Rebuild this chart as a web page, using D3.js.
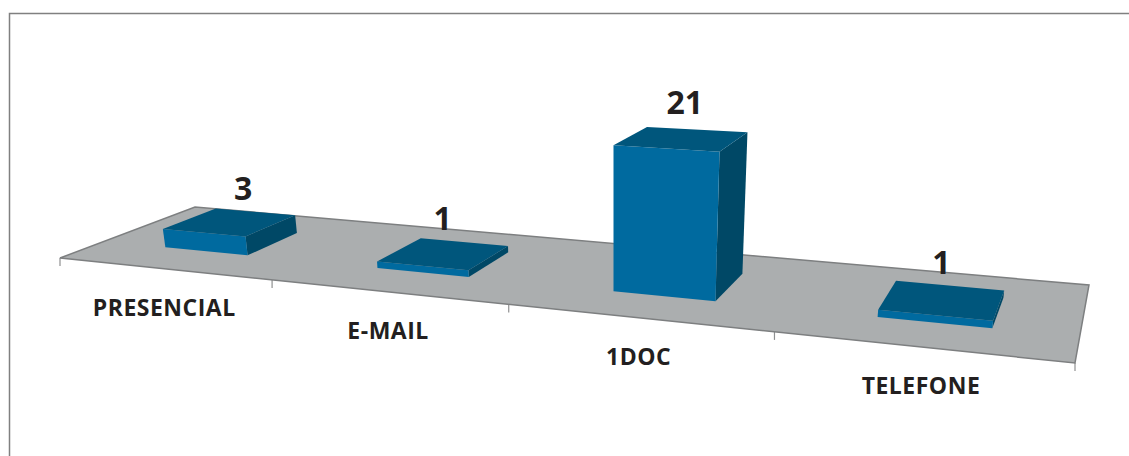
<!DOCTYPE html>
<html>
<head>
<meta charset="utf-8">
<script src="https://cdnjs.cloudflare.com/ajax/libs/d3/7.8.5/d3.min.js"></script>
<style>
  html, body { margin: 0; padding: 0; background: #fff; overflow: hidden; }
  text { font-family: "Open Sans", sans-serif; font-weight: 700; fill: #231f20; }
</style>
</head>
<body>
<svg id="chart" width="1129" height="456"></svg>
<script>
const categories = ["PRESENCIAL", "E-MAIL", "1DOC", "TELEFONE"];
const values = [3, 1, 21, 1];

const width = 1129, height = 456;
const svg = d3.select("#chart");

// floor corners on screen: front-left, front-right, back-right, back-left
const [p0, p1, p2, p3] = [[60, 258], [1075, 363], [1089, 285], [195, 207]];

// perspective map from the unit floor square to the screen
const dx1 = p1[0] - p2[0], dx2 = p3[0] - p2[0], sx = p0[0] - p1[0] + p2[0] - p3[0];
const dy1 = p1[1] - p2[1], dy2 = p3[1] - p2[1], sy = p0[1] - p1[1] + p2[1] - p3[1];
const det = dx1 * dy2 - dx2 * dy1;
const pg = (sx * dy2 - dx2 * sy) / det;
const ph = (dx1 * sy - sx * dy1) / det;
const pa = p1[0] - p0[0] + pg * p1[0], pb = p3[0] - p0[0] + ph * p3[0];
const pd = p1[1] - p0[1] + pg * p1[1], pe = p3[1] - p0[1] + ph * p3[1];

function project(u, v, h = 0) {
  const w = pg * u + ph * v + 1;
  const px = (pa * u + pb * v + p0[0]) / w;
  const py = (pd * u + pe * v + p0[1]) / w;
  // height grows toward the near right side, tall tops flatten toward the back
  const up = h * (1 + (u - 0.55) * 0.24) - (v - 0.3) * h * 0.135;
  return [px + (px - 613) * h * 0.00027, py - up];
}

const x = d3.scaleBand().domain(categories).range([0.002, 1.002]).paddingInner(0.6).paddingOuter(0.3);
const slot = d3.scaleBand().domain(categories).range([0, 1]);
const depth = d3.scaleLinear().domain([0, 1]).range([0.3, 0.71]);
const y = d3.scaleLinear().domain([0, 21]).range([0, 145]);
const line = d3.line();
const poly = pts => line(pts) + "Z";

// chart frame, only top and left
svg.append("path")
  .attr("d", `M9.5,456V13.5H${width}`)
  .attr("fill", "none")
  .attr("stroke", "#808080")
  .attr("stroke-width", 1.5);

// ticks under the front edge
const tickPos = categories.map(c => slot(c)).concat(1);
svg.selectAll("line.tick")
  .data(tickPos)
  .join("line")
  .attr("class", "tick")
  .attr("x1", d => project(d, 0)[0])
  .attr("x2", d => project(d, 0)[0])
  .attr("y1", d => project(d, 0)[1])
  .attr("y2", d => project(d, 0)[1] + 8)
  .attr("stroke", "#8f9091")
  .attr("stroke-width", 1.2);

// floor
svg.append("path")
  .attr("d", poly([p0, p1, p2, p3]))
  .attr("fill", "#abaeaf")
  .attr("stroke", "#7d7f80")
  .attr("stroke-width", 1.5);

// bars: side, front, top
const bars = svg.selectAll("g.bar")
  .data(categories.map((c, i) => ({ c, v: values[i] })))
  .join("g")
  .attr("class", "bar");

const corners = (d, h) => {
  const u0 = x(d.c), u1 = x(d.c) + x.bandwidth();
  return {
    fl: project(u0, depth(0), h), fr: project(u1, depth(0), h),
    br: project(u1, depth(1), h), bl: project(u0, depth(1), h)
  };
};

bars.append("path")
  .attr("fill", "#004866")
  .attr("d", d => {
    const a = corners(d, 0), t = corners(d, y(d.v));
    return poly([a.fr, a.br, t.br, t.fr]);
  });
bars.append("path")
  .attr("fill", "#006a9f")
  .attr("d", d => {
    const a = corners(d, 0), t = corners(d, y(d.v));
    return poly([a.fl, a.fr, t.fr, t.fl]);
  });
bars.append("path")
  .attr("fill", "#00567c")
  .attr("d", d => {
    const t = corners(d, y(d.v));
    return poly([t.fl, t.fr, t.br, t.bl]);
  });

// category labels follow the front edge
svg.selectAll("text.cat")
  .data(categories)
  .join("text")
  .attr("class", "cat")
  .attr("text-anchor", "middle")
  .attr("font-size", 23)
  .attr("letter-spacing", 0.5)
  .attr("x", c => project(slot(c) + slot.bandwidth() / 2, 0)[0] + 1)
  .attr("y", c => project(slot(c) + slot.bandwidth() / 2, 0)[1] + 47)
  .text(c => c);

// value labels
const labelDx = [13, -1, 3, -1];
const labelDy = [-12, -12, -16, -12];
svg.selectAll("text.val")
  .data(values)
  .join("text")
  .attr("class", "val")
  .attr("text-anchor", "middle")
  .attr("font-size", 32)
  .attr("x", (v, i) => project(x(categories[i]) + x.bandwidth() / 2, depth(0.5), y(v))[0] + labelDx[i])
  .attr("y", (v, i) => project(x(categories[i]) + x.bandwidth() / 2, depth(1), y(v))[1] + labelDy[i])
  .text(v => v);
</script>
</body>
</html>
